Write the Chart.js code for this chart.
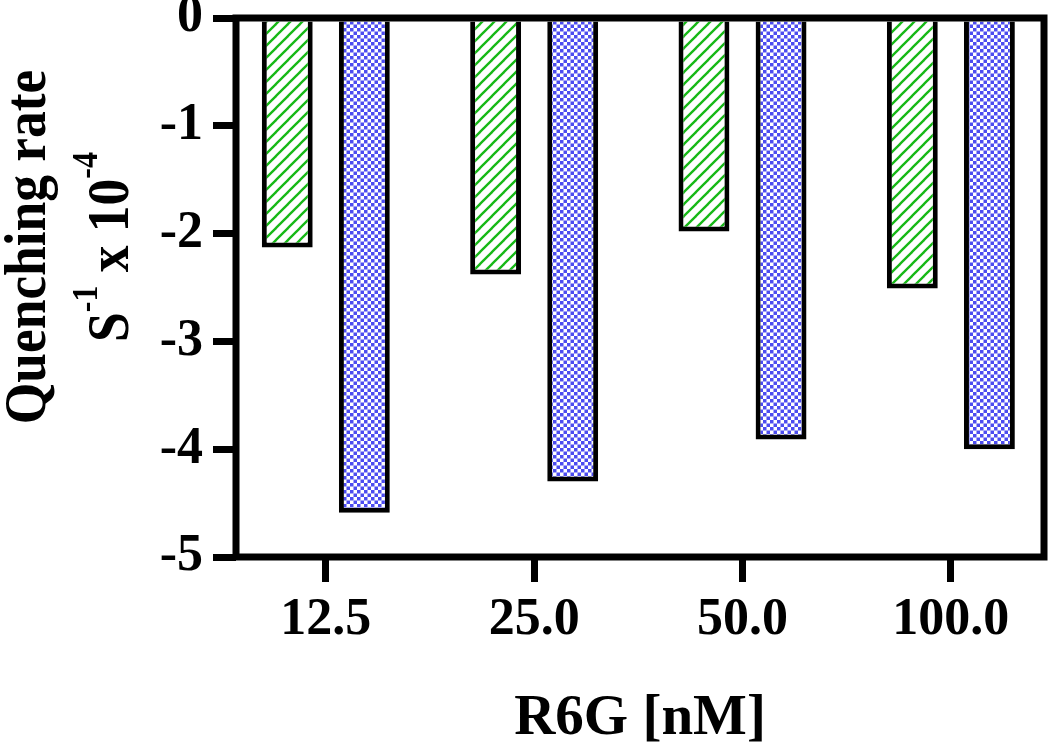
<!DOCTYPE html>
<html>
<head>
<meta charset="utf-8">
<script src="https://cdn.jsdelivr.net/npm/chart.js@4.4.1/dist/chart.umd.min.js"></script>
<style>
  html, body { margin: 0; padding: 0; background: #fff; }
  #wrap { width: 1050px; height: 752px; }
</style>
</head>
<body>
<div id="wrap"><canvas id="chart" width="1050" height="752"></canvas></div>
<script>
// ─── DATA ─────────────────────────────────────────────────
const concentrations = ['12.5', '25.0', '50.0', '100.0'];
const greenRates = [-2.13, -2.38, -1.98, -2.51];
const blueRates = [-4.59, -4.30, -3.91, -4.00];
const yTicks = [0, -1, -2, -3, -4, -5];
const xTitle = 'R6G [nM]';
const yTitleLine1 = [{ text: 'Quenching rate' }];
const yTitleLine2 = [{ text: 'S' }, { text: '-1', sup: true }, { text: ' x 10' }, { text: '-4', sup: true }];

const SERIF = '"Liberation Serif", "Times New Roman", serif';

// ─── PATTERNS ─────────────────────────────────────────────
function stripePattern() {
    const n = 12;
    const c = document.createElement('canvas');
    c.width = n; c.height = n;
    const g = c.getContext('2d');
    g.fillStyle = '#fff';
    g.fillRect(0, 0, n, n);
    g.strokeStyle = '#16b816';
    g.lineWidth = 2.3;
    [[-n, n, n, -n], [0, n, n, 0], [0, 2 * n, 2 * n, 0]].forEach(([x1, y1, x2, y2]) => {
        g.beginPath(); g.moveTo(x1, y1); g.lineTo(x2, y2); g.stroke();
    });
    return g.createPattern(c, 'repeat');
}

function checkerPattern() {
    const c = document.createElement('canvas');
    c.width = 7; c.height = 7;
    const g = c.getContext('2d');
    g.fillStyle = '#fff';
    g.fillRect(0, 0, 7, 7);
    g.fillStyle = '#4c4cf0';
    g.fillRect(0, 0, 3.5, 3.5);
    g.fillRect(3.5, 3.5, 3.5, 3.5);
    return g.createPattern(c, 'repeat');
}

// ─── PLUGINS ──────────────────────────────────────────────
const framePlugin = {
    id: 'frame',
    afterDatasetsDraw(chart) {
        const { ctx, chartArea: a } = chart;
        ctx.save();
        ctx.lineWidth = 7;
        ctx.strokeStyle = '#000';
        ctx.lineJoin = 'miter';
        ctx.strokeRect(a.left, a.top, a.right - a.left, a.bottom - a.top);
        ctx.restore();
    }
};

function drawRotatedRuns(ctx, runs, baseX, centerY) {
    const fontFor = r => `bold ${r.sup ? 36 : 60}px ${SERIF}`;
    ctx.save();
    ctx.translate(baseX, centerY);
    ctx.rotate(-Math.PI / 2);
    ctx.scale(0.89, 1);
    const widths = runs.map(r => { ctx.font = fontFor(r); return ctx.measureText(r.text).width; });
    let x = -widths.reduce((s, w) => s + w, 0) / 2;
    ctx.fillStyle = '#000';
    ctx.textAlign = 'left';
    ctx.textBaseline = 'alphabetic';
    runs.forEach((r, i) => {
        ctx.font = fontFor(r);
        ctx.fillText(r.text, x, r.sup ? -31 : 0);
        x += widths[i];
    });
    ctx.restore();
}

const yTitlePlugin = {
    id: 'yTitle',
    afterDraw(chart) {
        drawRotatedRuns(chart.ctx, yTitleLine1, 45, 247);
        drawRotatedRuns(chart.ctx, yTitleLine2, 128, 247);
    }
};

// ─── CHART ────────────────────────────────────────────────
const tickFont = { family: SERIF, size: 52, weight: 'bold' };

new Chart(document.getElementById('chart'), {
    type: 'bar',
    data: {
        datasets: [
            {
                data: greenRates.map((v, i) => ({ x: i, y: v })),
                backgroundColor: stripePattern(),
                borderColor: '#000', borderWidth: 5, borderSkipped: 'start',
                categoryPercentage: 0.74, barPercentage: 0.66,
            },
            {
                data: blueRates.map((v, i) => ({ x: i, y: v })),
                backgroundColor: checkerPattern(),
                borderColor: '#000', borderWidth: 5, borderSkipped: 'start',
                categoryPercentage: 0.74, barPercentage: 0.66,
            }
        ]
    },
    options: {
        responsive: false, animation: false, events: [],
        layout: { padding: { top: 18, right: 6, left: 0, bottom: 0 } },
        plugins: { legend: { display: false }, tooltip: { enabled: false } },
        scales: {
            x: {
                type: 'linear', min: -0.431, max: 3.447, offset: false,
                afterFit: s => { s.height = 195; s.paddingLeft = 0; s.paddingRight = 0; },
                afterBuildTicks: s => { s.ticks = concentrations.map((_, i) => ({ value: i })); },
                grid: { offset: false, drawOnChartArea: false, drawTicks: true, tickLength: 25, lineWidth: 7, color: '#000' },
                border: { display: false },
                ticks: { callback: v => concentrations[v], font: tickFont, color: '#000', padding: 7, maxRotation: 0, autoSkip: false },
                title: { display: true, text: xTitle, color: '#000', padding: { top: 0, bottom: 0 },
                         font: { family: SERIF, size: 57, weight: 'bold', lineHeight: 1.15 } }
            },
            y: {
                min: -5, max: 0,
                afterFit: s => { s.width = 236; s.paddingTop = 0; s.paddingBottom = 0; },
                afterBuildTicks: s => { s.ticks = yTicks.map(v => ({ value: v })); },
                grid: { drawOnChartArea: false, drawTicks: true, tickLength: 23, lineWidth: 7, color: '#000' },
                border: { display: false },
                ticks: { callback: v => String(v), font: tickFont, color: '#000', padding: 10 }
            }
        }
    },
    plugins: [framePlugin, yTitlePlugin]
});
</script>
</body>
</html>
